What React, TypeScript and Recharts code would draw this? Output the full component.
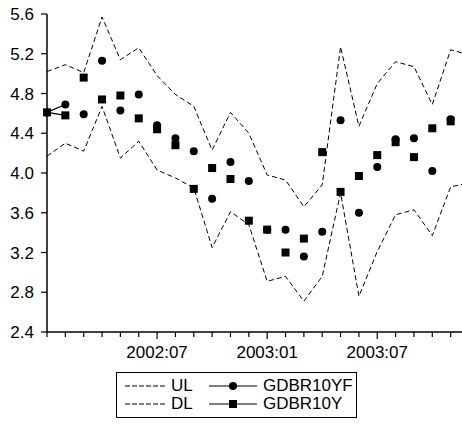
import React from 'react';
import { LineChart, Line, XAxis, YAxis, Legend } from 'recharts';

const months = [
  '2002:01', '2002:02', '2002:03', '2002:04', '2002:05', '2002:06',
  '2002:07', '2002:08', '2002:09', '2002:10', '2002:11', '2002:12',
  '2003:01', '2003:02', '2003:03', '2003:04', '2003:05', '2003:06',
  '2003:07', '2003:08', '2003:09', '2003:10', '2003:11', '2003:12',
];
const ul = [5.02, 5.09, 5.01, 5.57, 5.14, 5.26, 4.98, 4.79, 4.67, 4.23, 4.61, 4.40,
  3.98, 3.93, 3.66, 3.88, 5.27, 4.47, 4.90, 5.12, 5.07, 4.69, 5.24, 5.19];
const dl = [4.17, 4.30, 4.22, 4.67, 4.15, 4.32, 4.03, 3.95, 3.85, 3.25, 3.61, 3.48,
  2.91, 2.96, 2.71, 2.96, 3.80, 2.76, 3.21, 3.58, 3.63, 3.37, 3.86, 3.90];
const gdbr10yf = [4.61, 4.69, 4.59, 5.13, 4.63, 4.79, 4.48, 4.35, 4.22, 3.74, 4.11, 3.92,
  3.43, 3.43, 3.16, 3.41, 4.53, 3.60, 4.06, 4.34, 4.35, 4.02, 4.54, null];
const gdbr10y = [4.61, 4.58, 4.96, 4.74, 4.78, 4.55, 4.44, 4.28, 3.84, 4.05, 3.94, 3.52,
  3.43, 3.20, 3.34, 4.21, 3.81, 3.97, 4.18, 4.31, 4.16, 4.45, 4.52, null];
const yTicks = [2.4, 2.8, 3.2, 3.6, 4.0, 4.4, 4.8, 5.2, 5.6];
const xLabels = ['2002:07', '2003:01', '2003:07'];

const data = months.map((m, i) => ({
  idx: i,
  month: m,
  UL: ul[i],
  DL: dl[i],
  GDBR10YF: gdbr10yf[i],
  GDBR10Y: gdbr10y[i],
  segF: i < 2 ? gdbr10yf[i] : null,
  segY: i < 2 ? gdbr10y[i] : null,
}));

const FONT = '"Liberation Sans", Arial, sans-serif';

const XTick = (props: any) => {
  const { x, y, payload } = props;
  const label = months[payload.value];
  const major = xLabels.includes(label);
  return (
    <g>
      <line x1={x} x2={x} y1={y} y2={y + (major ? 7 : 5)} stroke="#000" strokeWidth={1.2} />
      {major && (
        <text x={x} y={y + 26} textAnchor="middle" fontSize={17} fontFamily={FONT} fill="#000">
          {label}
        </text>
      )}
    </g>
  );
};

const Circle = (props: any) => {
  const { cx, cy, value } = props;
  if (value === null || value === undefined || cx == null || cy == null) return <g />;
  return <circle cx={cx} cy={cy} r={4} fill="#000" stroke="none" />;
};

const Square = (props: any) => {
  const { cx, cy, value } = props;
  if (value === null || value === undefined || cx == null || cy == null) return <g />;
  return <rect x={cx - 4} y={cy - 4} width={8} height={8} fill="#000" stroke="none" />;
};

const LegendContent = () => {
  const row = (dlabel: string, slabel: string, square: boolean) => (
    <div style={{ display: 'flex', alignItems: 'center', height: 18 }}>
      <svg width={40} height={10} style={{ marginLeft: 8 }}>
        <line x1={0} x2={40} y1={5} y2={5} stroke="#000" strokeWidth={1} strokeDasharray="5 2" />
      </svg>
      <span style={{ width: 34, marginLeft: 6 }}>{dlabel}</span>
      <svg width={48} height={10} style={{ marginLeft: 4 }}>
        <line x1={0} x2={48} y1={5} y2={5} stroke="#000" strokeWidth={1.2} />
        {square ? <rect x={20} y={1} width={8} height={8} fill="#000" /> : <circle cx={24} cy={5} r={4} fill="#000" />}
      </svg>
      <span style={{ marginLeft: 6 }}>{slabel}</span>
    </div>
  );
  return (
    <div
      style={{
        border: '1px solid #000',
        width: 241,
        height: 46,
        boxSizing: 'border-box',
        paddingTop: 4,
        fontFamily: FONT,
        fontSize: 17,
        color: '#000',
        lineHeight: '18px',
        background: '#fff',
      }}
    >
      {row('UL', 'GDBR10YF', false)}
      {row('DL', 'GDBR10Y', true)}
    </div>
  );
};

export default function App() {
  return (
    <div style={{ position: 'absolute', left: 0, top: 0, width: 462, height: 424, overflow: 'hidden', background: '#fff' }}>
      <LineChart width={469} height={424} data={data} margin={{ top: 14, right: 0, bottom: 0, left: 0 }}>
        <XAxis
          dataKey="idx"
          type="number"
          domain={[0, 23]}
          ticks={months.map((_, i) => i)}
          interval={0}
          tickLine={false}
          tickSize={0}
          tickMargin={0}
          tick={<XTick />}
          axisLine={{ stroke: '#000', strokeWidth: 1.5 }}
          height={92}
        />
        <XAxis
          xAxisId="top"
          orientation="top"
          dataKey="idx"
          type="number"
          domain={[0, 23]}
          height={0}
          tick={false}
          tickLine={false}
          axisLine={{ stroke: '#000', strokeWidth: 1.5 }}
        />
        <YAxis
          type="number"
          domain={[2.4, 5.6]}
          ticks={yTicks}
          interval={0}
          width={47}
          tickSize={6}
          tickMargin={7}
          tickFormatter={(v: number) => v.toFixed(1)}
          tick={{ fill: '#000', fontSize: 17, fontFamily: FONT }}
          tickLine={{ stroke: '#000', strokeWidth: 1.2 }}
          axisLine={{ stroke: '#000', strokeWidth: 1.5 }}
        />
        <Line dataKey="UL" stroke="#000" strokeWidth={1} strokeDasharray="5 3" dot={false} isAnimationActive={false} legendType="none" />
        <Line dataKey="DL" stroke="#000" strokeWidth={1} strokeDasharray="5 3" dot={false} isAnimationActive={false} legendType="none" />
        <Line dataKey="segF" stroke="#000" strokeWidth={1.2} dot={false} isAnimationActive={false} legendType="none" />
        <Line dataKey="segY" stroke="#000" strokeWidth={1.2} dot={false} isAnimationActive={false} legendType="none" />
        <Line dataKey="GDBR10YF" stroke="none" dot={<Circle />} activeDot={false} isAnimationActive={false} />
        <Line dataKey="GDBR10Y" stroke="none" dot={<Square />} activeDot={false} isAnimationActive={false} />
        <Legend
          layout="horizontal"
          verticalAlign="middle"
          align="center"
          wrapperStyle={{ position: 'absolute', left: 116, top: 372, width: 241, height: 46 }}
          content={<LegendContent />}
        />
      </LineChart>
    </div>
  );
}
